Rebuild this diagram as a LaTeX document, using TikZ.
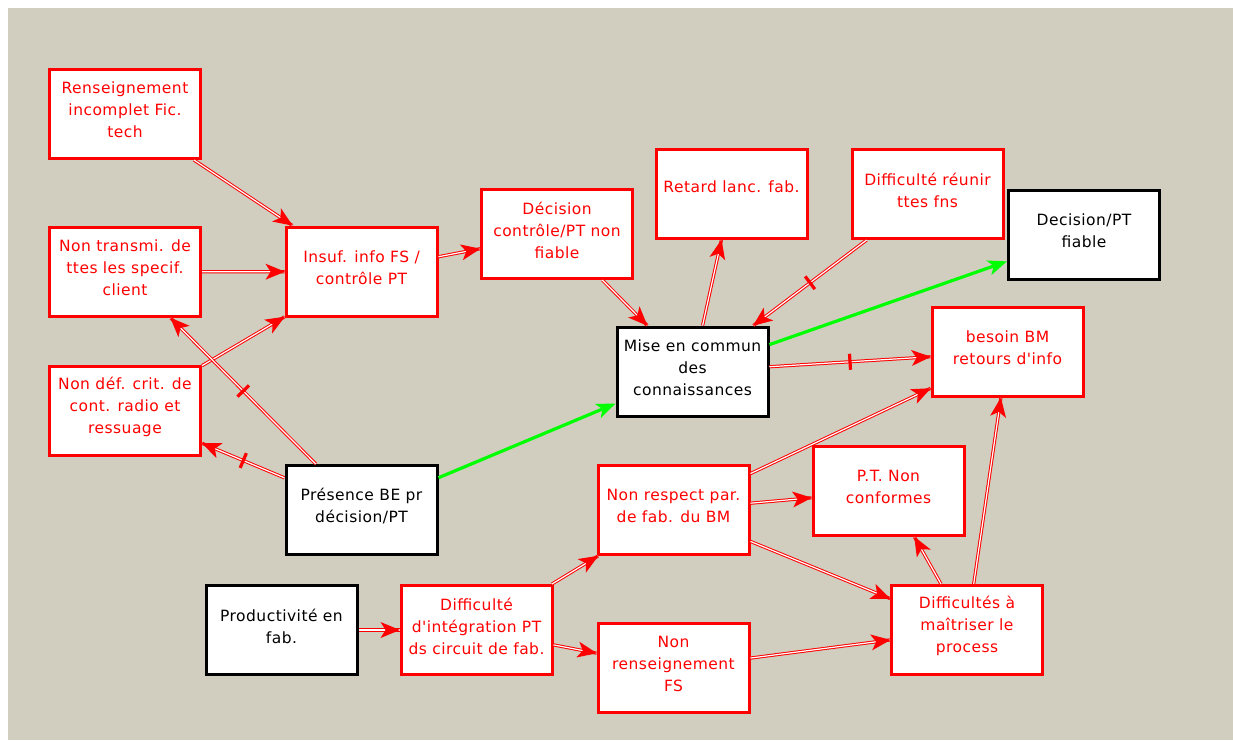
\documentclass[tikz,border=0pt]{standalone}
\usepackage{fontspec}
\newfontfamily\dv[LetterSpace=3.0]{DejaVu Sans}
\usetikzlibrary{arrows.meta,decorations.markings}
\definecolor{bgc}{RGB}{209,206,192}
\definecolor{gr}{RGB}{0,255,0}
\begin{document}
\begin{tikzpicture}[x=1pt,y=-1pt,
 box/.style={rectangle, draw=red, fill=white, line width=3pt, minimum width=151pt, minimum height=89pt, inner sep=0pt},
 kbox/.style={box, draw=black},
 txt/.style={font=\dv\fontsize{15.5}{22}\selectfont, align=center, text=red, yshift=4pt, inner sep=0pt},
 ktxt/.style={txt, text=black},
 conn/.style={draw=red, line width=1pt, double=white, double distance=1.2pt,
   postaction={decorate, decoration={markings, mark=at position 1 with {\fill[red] (0.5pt,0pt) -- (-19pt,8pt) -- (-14pt,0pt) -- (-19pt,-8pt) -- cycle;}}}},
 ticked/.style={postaction={decorate, decoration={markings, mark=at position 0.5 with {\fill[red] (-1.6pt,-8pt) rectangle (1.6pt,8pt);}}}},
 gconn/.style={draw=gr, line width=3.2pt, -{Stealth[length=19pt,width=15pt,inset=5pt]}},
]
\useasboundingbox (0,0) rectangle (1233,740);
\fill[white] (0,0) rectangle (1233,740);
\fill[bgc] (8,8) rectangle (1233,740);

\node[box] (ren) at (125,114) [label={[txt]center:Renseignement\\incomplet Fic.\\tech}] {};
\node[box] (ntr) at (125,272) [label={[txt]center:Non transmi. de\\ttes les specif.\\client}] {};
\node[box] (ndef) at (125,411) [label={[txt]center:Non déf. crit. de\\cont. radio et\\ressuage}] {};
\node[box] (insuf) at (361.5,271.5) [label={[txt]center:Insuf. info FS /\\contrôle PT}] {};
\node[box] (decnf) at (557,234) [label={[txt]center:Décision\\contrôle/PT non\\fiable}] {};
\node[box] (retard) at (731.5,194) [label={[txt,yshift=3pt]center:Retard lanc. fab.}] {};
\node[box] (reunir) at (927.5,194) [label={[txt]center:Difficulté réunir\\ttes fns}] {};
\node[kbox] (decf) at (1084,234.5) [label={[ktxt]center:Decision/PT\\fiable}] {};
\node[kbox] (mise) at (692.5,371.5) [label={[ktxt]center:Mise en commun\\des\\connaissances}] {};
\node[box] (besoin) at (1007.5,352) [label={[txt]center:besoin BM\\retours d'info}] {};
\node[kbox] (pres) at (361.5,510) [label={[ktxt]center:Présence BE pr\\décision/PT}] {};
\node[box] (nres) at (673.5,510) [label={[txt]center:Non respect par.\\de fab. du BM}] {};
\node[box] (ptn) at (888.5,491) [label={[txt]center:P.T. Non\\conformes}] {};
\node[kbox] (prod) at (281.5,630) [label={[ktxt]center:Productivité en\\fab.}] {};
\node[box] (dint) at (476.5,630) [label={[txt]center:Difficulté\\d'intégration PT\\ds circuit de fab.}] {};
\node[box] (nrens) at (673.5,668) [label={[txt]center:Non\\renseignement\\FS}] {};
\node[box] (difm) at (967,630) [label={[txt]center:Difficultés à\\maîtriser le\\process}] {};

\draw[conn] (ren) -- (insuf);
\draw[conn] (ntr) -- (insuf);
\draw[conn] (ndef) -- (insuf);
\draw[conn] (insuf) -- (decnf);
\draw[conn,ticked] (pres) -- (ntr);
\draw[conn,ticked] (pres) -- (ndef);
\draw[gconn] (pres) -- (mise);
\draw[gconn] (mise) -- (decf);
\draw[conn] (decnf) -- (mise);
\draw[conn] (mise) -- (retard);
\draw[conn,ticked] (reunir) -- (mise);
\draw[conn,ticked] (mise) -- (besoin);
\draw[conn] (nres) -- (besoin);
\draw[conn] (nres) -- (ptn);
\draw[conn] (nres) -- (difm);
\draw[conn] (prod) -- (dint);
\draw[conn] (dint) -- (nres);
\draw[conn] (dint) -- (nrens);
\draw[conn] (nrens) -- (difm);
\draw[conn] (difm) -- (ptn);
\draw[conn] (difm) -- (besoin);
\end{tikzpicture}
\end{document}
